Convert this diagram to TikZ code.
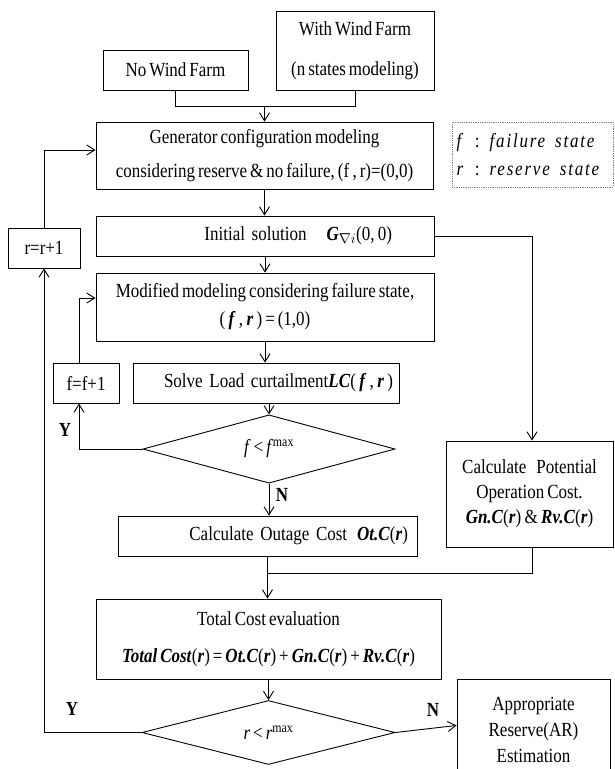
\documentclass[tikz,border=0pt]{standalone}
\usepackage{fontspec}
\setmainfont{Liberation Serif}[FakeStretch=0.85, WordSpace=0.7]
\usepackage{tikz}
\usetikzlibrary{arrows.meta,shapes.geometric,positioning,calc}
\newcommand{\bitext}[1]{\textbf{\textit{#1}}}

\begin{document}
\begin{tikzpicture}[
    x=1pt, y=-1pt,
    every node/.style={font=\fontsize{20}{25}\selectfont},
    box/.style={draw, line width=0.9pt, inner sep=2pt, align=center},
    decision/.style={draw, diamond, line width=0.9pt, inner sep=0pt},
    lbl/.style={font=\fontsize{20}{25}\selectfont\bfseries},
    flow/.style={line width=0.9pt},
    >={Straight Barb[length=8pt,width=10pt]}
]
\useasboundingbox (0,0) rectangle (614,769);

% Wind farm cases
\node[box, minimum width=145pt, minimum height=40pt] (nowind) at (175.5,70) {No Wind Farm};
\node[box, minimum width=158pt, minimum height=79pt] (withwind) at (355,50.5) {With Wind Farm\\[15pt](n states modeling)};

% Generator model
\node[box, minimum width=337pt, minimum height=67pt] (gen) at (264.5,155.5) {Generator configuration modeling\\[9pt]considering reserve \& no failure, (f\,, r)=(0,0)};

% Legend
\node[draw=gray, densely dotted, line width=0.8pt, minimum width=161pt, minimum height=65pt,
      text width=152pt, inner xsep=4.5pt, align=left] (legend) at (532.5,154.5)
      {\addfontfeatures{LetterSpace=9}\textit{f}\, : \textit{failure\, state}\\[3pt]\textit{r}\, : \textit{reserve\, state}};

% Initial solution
\node[box, minimum width=338pt, minimum height=40pt, text width=254pt, inner xsep=42pt, align=right] (init) at (265,236) {Initial solution\quad\bitext{G}$_{\nabla i}$(0,\,0)};

% Reserve counter
\node[box, minimum width=72pt, minimum height=40pt] (rinc) at (44,248) {r=r+1};

% Failure modeling
\node[box, minimum width=338pt, minimum height=68pt] (modif) at (265,307) {Modified modeling considering failure state,\\[3pt](\,\bitext{f}\,,\,\bitext{r}\,) = (1,0)};

% Load curtailment
\node[box, minimum width=266pt, minimum height=40pt, text width=254pt, inner xsep=6pt, align=right] (solve) at (266,383) {Solve Load curtailment\bitext{LC}(\,\bitext{f}\,,\,\bitext{r}\,)};

% Failure counter
\node[box, minimum width=66pt, minimum height=40pt] (finc) at (86,383) {f=f+1};

% Failure check
\node[decision, minimum width=252pt, minimum height=52pt] (fdec) at (269,449) {\textit{f} < \textit{f}\textsuperscript{max}};

% Outage cost
\node[box, minimum width=299pt, minimum height=40pt, text width=281pt, inner xsep=9pt, align=right] (outage) at (267.5,536) {Calculate Outage Cost\enspace\bitext{Ot.C}(\bitext{r})};

% Operation cost
\node[box, minimum width=167pt, minimum height=106pt] (potential) at (529.5,494) {Calculate\enspace Potential\\Operation Cost.\\\bitext{Gn.C}(\bitext{r})\,\&\,\bitext{Rv.C}(\bitext{r})};

% Total cost
\node[box, minimum width=345pt, minimum height=80pt] (total) at (268.5,639) {Total Cost evaluation\\[12pt]\bitext{Total Cost}(\bitext{r}) = \bitext{Ot.C}(\bitext{r}) + \bitext{Gn.C}(\bitext{r}) + \bitext{Rv.C}(\bitext{r})};

% Reserve check
\node[decision, minimum width=253pt, minimum height=59pt] (rdec) at (268.5,732.5) {\textit{r} < \textit{r}\textsuperscript{max}};

% Result
\node[box, minimum width=153pt, minimum height=101pt, anchor=north] (approp) at (533.5,679) {Appropriate\\[1pt]Reserve(AR)\\[1pt]Estimation};

% Branch labels
\node[lbl] (yf) at (65,430) {Y};
\node[lbl] (nf) at (282,495) {N};
\node[lbl] (yr) at (72,709) {Y};
\node[lbl] (nr) at (433,710) {N};

% Main flow
\coordinate (merge) at ([yshift=15pt]gen.north);
\draw[flow] (nowind.south) |- (merge) -| (withwind.south);
\draw[flow,->] (merge) -- (gen.north);
\draw[flow,->] (gen.south) -- (gen.south |- init.north);
\draw[flow,->] (init.south) -- (init.south |- modif.north);
\draw[flow,->] (modif.south) -- (modif.south |- solve.north);
\draw[flow,->] (fdec.north |- solve.south) -- (fdec.north);
\draw[flow,->] (fdec.south) -- (fdec.south |- outage.north);
\coordinate (join) at (outage.south |- 0,573);
\draw[flow] (outage.south) -- (join);
\draw[flow] ([xshift=2.5pt]potential.south) |- (join);
\draw[flow,->] (join) -- (join |- total.north);
\draw[flow,->] (init.east) -| ([xshift=2.5pt]potential.north);
\draw[flow,->] (rdec.north |- total.south) -- (rdec.north);

% Loops
\draw[flow,->] (fdec.west) -| ([xshift=-7pt]finc.south);
\draw[flow,->] ([xshift=-7pt]finc.north) |- ([yshift=9pt]modif.west);
\draw[flow,->] (rdec.west) -| (rinc.south);
\draw[flow,->] (rinc.north) |- ([yshift=5.5pt]gen.west);
\draw[flow,->] (rdec.east) -- ([yshift=4.5pt]approp.west);
\end{tikzpicture}
\end{document}
